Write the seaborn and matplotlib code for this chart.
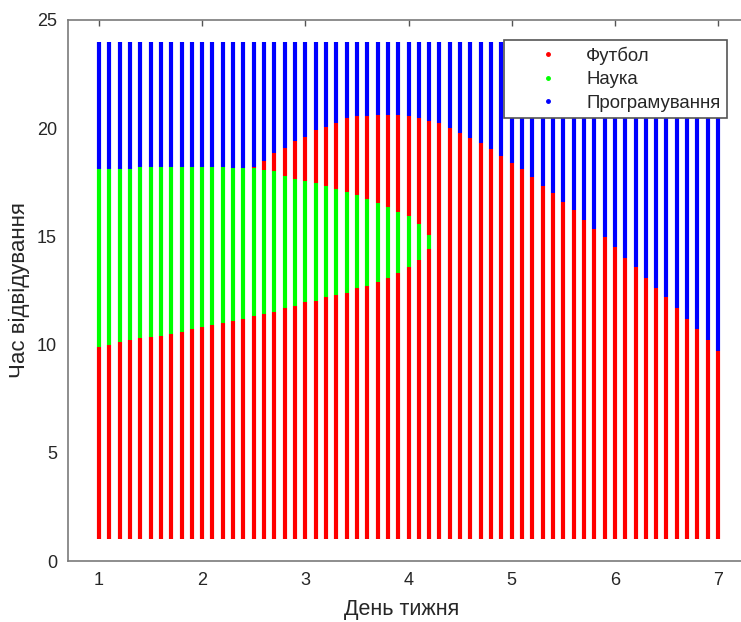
import numpy as np
import pandas as pd
import matplotlib
matplotlib.use("Agg")
import matplotlib.pyplot as plt
from matplotlib.lines import Line2D
import seaborn as sns

# ---------------- data ----------------
classes = ["Футбол", "Наука", "Програмування"]
class_colors = ["#ff0000", "#00ff00", "#0000ff"]

days = np.linspace(1.0, 7.0, 61)          # grid columns x = 1.0, 1.1, ..., 7.0
hour_min, hour_max = 1.0, 24.0            # grid rows run from 1 to 24 h

nan = np.nan
# bottom edge of the green (Наука) region for each column
green_lo = [9.9, 10.0, 10.1, 10.2, 10.3, 10.35, 10.4, 10.5, 10.6, 10.7, 10.8,
            10.9, 11.0, 11.1, 11.2, 11.3, 11.4, 11.5, 11.7, 11.8, 11.95,
            12.0, 12.2, 12.3, 12.4, 12.6, 12.7, 12.9, 13.1, 13.3, 13.6,
            13.9, 14.4] + [nan] * 28
# top edge of the green region
green_hi = [18.1, 18.1, 18.1, 18.1, 18.2, 18.2, 18.2, 18.2, 18.2, 18.2, 18.2,
            18.2, 18.2, 18.15, 18.15, 18.15, 18.05, 18.0, 17.8, 17.65, 17.55,
            17.45, 17.35, 17.2, 17.05, 16.9, 16.75, 16.55, 16.35, 16.15, 15.95,
            15.55, 15.05] + [nan] * 28
# bottom edge of the blue (Програмування) region
blue_lo = [18.1, 18.1, 18.1, 18.1, 18.2, 18.2, 18.2, 18.2, 18.2, 18.2, 18.2,
           18.2, 18.2, 18.15, 18.15, 18.2, 18.5, 18.85, 19.1, 19.4, 19.6,
           19.9, 20.05, 20.25, 20.45, 20.55, 20.55, 20.6, 20.6, 20.6, 20.55,
           20.45, 20.35, 20.25, 20.0, 19.8, 19.55, 19.3, 19.05, 18.7, 18.4,
           18.1, 17.75, 17.35, 17.0, 16.6, 16.2, 15.75, 15.35, 14.95, 14.5,
           14.0, 13.6, 13.1, 12.6, 12.2, 11.7, 11.2, 10.7, 10.2, 9.7]

x_ticks = [1, 2, 3, 4, 5, 6, 7]
y_ticks = [0, 5, 10, 15, 20, 25]
x_label = "День тижня"
y_label = "Час відвідування"

# ---------------- build vertical class segments ----------------
rows = []
seg = 0
def add(x, y0, y1, cls):
    global seg
    rows.append((seg, x, y0, cls))
    rows.append((seg, x, y1, cls))
    seg += 1

for i, x in enumerate(days):
    b = blue_lo[i]
    glo, ghi = green_lo[i], green_hi[i]
    if not np.isnan(glo):
        add(x, hour_min, glo, classes[0])
        add(x, glo, ghi, classes[1])
        if b > ghi:
            add(x, ghi, b, classes[0])
    else:
        add(x, hour_min, b, classes[0])
    add(x, b, hour_max, classes[2])

df = pd.DataFrame(rows, columns=["seg", "x", "y", "cls"])

# ---------------- plot ----------------
sns.set_style("white")
plt.rcParams["font.family"] = ["Liberation Sans", "DejaVu Sans"]

W, H = 741, 622
fig = plt.figure(figsize=(W / 100, H / 100), dpi=100)
ax = fig.add_axes([68 / W, 61 / H, (749 - 68) / W, (561 - 20) / H])

sns.lineplot(data=df, x="x", y="y", hue="cls", units="seg", estimator=None,
             sort=False, hue_order=classes,
             palette=dict(zip(classes, class_colors)),
             linewidth=3.0, solid_capstyle="butt", legend=False, ax=ax)

ax.set_xlim(0.7, 7.3)
ax.set_ylim(0, 25)
ax.set_xticks(x_ticks)
ax.set_yticks(y_ticks)
ax.set_xlabel(x_label, fontsize=15.5, color="#262626", labelpad=7)
ax.set_ylabel(y_label, fontsize=16, color="#262626", labelpad=5)
ax.xaxis.label.set_x(0.4905)
ax.tick_params(direction="in", length=4, width=1, colors="#555555",
               labelcolor="#262626", labelsize=13, top=True, right=True,
               pad=8)
for s in ax.spines.values():
    s.set_visible(True)
    s.set_color("#7a7a7a")
    s.set_linewidth(1.2)

handles = [Line2D([], [], marker=".", color=c, linestyle="none", markersize=5)
           for c in class_colors]
leg = ax.legend(handles, classes, loc="upper right",
                bbox_to_anchor=(727 / W, 1 - 40 / H),
                bbox_transform=fig.transFigure, frameon=True, fancybox=False,
                edgecolor="#555555", framealpha=1, borderaxespad=0,
                handlelength=4.0, handletextpad=0.05, labelspacing=0.35,
                fontsize=13.4, borderpad=0.35)
leg.get_frame().set_linewidth(1.2)
for t in leg.get_texts():
    t.set_color("#262626")

fig.savefig("out.png", dpi=100)
